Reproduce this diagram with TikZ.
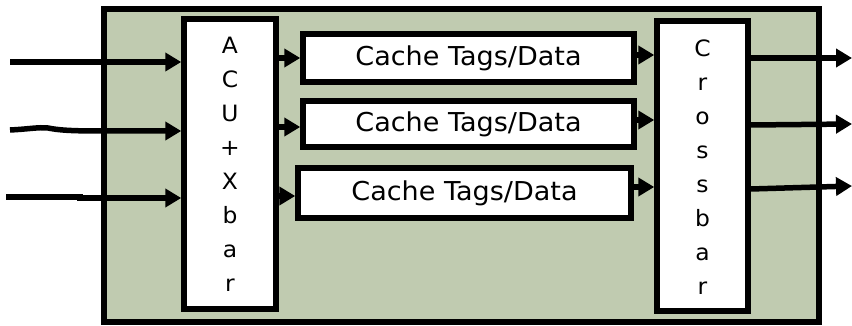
\documentclass[tikz,border=0pt]{standalone}
\usepackage{fontspec}
\setmainfont[FakeStretch=1.04]{DejaVu Sans}
\usetikzlibrary{arrows.meta}
\definecolor{sage}{RGB}{192,203,176}
\tikzset{
  blk/.style={draw=black, line width=5.5pt, fill=white, inner sep=0pt},
  arr/.style={line width=5.5pt, -{Triangle[length=16pt,width=18pt]}},
  vtext/.style={align=center, font=\fontsize{22.5pt}{34pt}\selectfont},
  ctext/.style={font=\fontsize{26pt}{28pt}\selectfont}
}
\begin{document}
\begin{tikzpicture}[x=1pt,y=-1pt]
\useasboundingbox (0,0) rectangle (852,326);
\node[draw=black, line width=5.5pt, fill=sage, minimum width=715pt, minimum height=313pt, inner sep=0pt] (outer) at (461.5,165.5) {};
\node[blk, minimum width=92pt, minimum height=290pt] (acu) at (230,164) {};
\node[vtext, anchor=north] (acut) at (230,34) {A\\C\\U\\+\\X\\b\\a\\r};
\node[blk, minimum width=91pt, minimum height=290pt] (xbar) at (702.5,166) {};
\node[vtext, anchor=north] (xbart) at (702.5,36) {C\\r\\o\\s\\s\\b\\a\\r};
\node[blk, minimum width=331pt, minimum height=48pt] (c1) at (468.5,58) {};
\node[ctext] at (c1) {Cache Tags/Data};
\node[blk, minimum width=331pt, minimum height=46pt] (c2) at (468.5,124) {};
\node[ctext] at (c2) {Cache Tags/Data};
\node[blk, minimum width=333pt, minimum height=50pt] (c3) at (464.5,193) {};
\node[ctext] at (c3) {Cache Tags/Data};
% inputs
\coordinate (in1) at (10,62);
\coordinate (in2) at (10,130);
\coordinate (in3) at (6,197);
\draw[arr] (in1) -- (in1 -| acu.west);
\draw[arr] (in2) .. controls (30,129) and (38,127) .. (48,128) .. controls (58,130) and (70,131) .. (100,131) -- (acu.west |- 0,131);
\draw[arr] (in3) -- (80,197) -- (80,198) -- (acu.west |- 0,198);
% acu to caches
\draw[arr] (acu.east |- 0,58) -- (c1.west |- 0,58);
\draw[arr] (acu.east |- 0,127) -- (c2.west |- 0,127);
\draw[arr] (acu.east |- 0,196) -- (c3.west |- 0,196);
% caches to crossbar
\draw[arr] (c1.east |- 0,55) -- (xbar.west |- 0,55);
\draw[arr] (c2.east |- 0,120) -- (xbar.west |- 0,120);
\draw[arr] (c3.east |- 0,187) -- (xbar.west |- 0,187);
% outputs
\coordinate (o1) at (852,58);
\coordinate (o2) at (852,124);
\coordinate (o3) at (852,186);
\draw[arr] (xbar.east |- 0,58) -- (o1);
\draw[arr] (xbar.east |- 0,125) -- (o2);
\draw[arr] (xbar.east |- 0,189) -- (o3);
\end{tikzpicture}
\end{document}
